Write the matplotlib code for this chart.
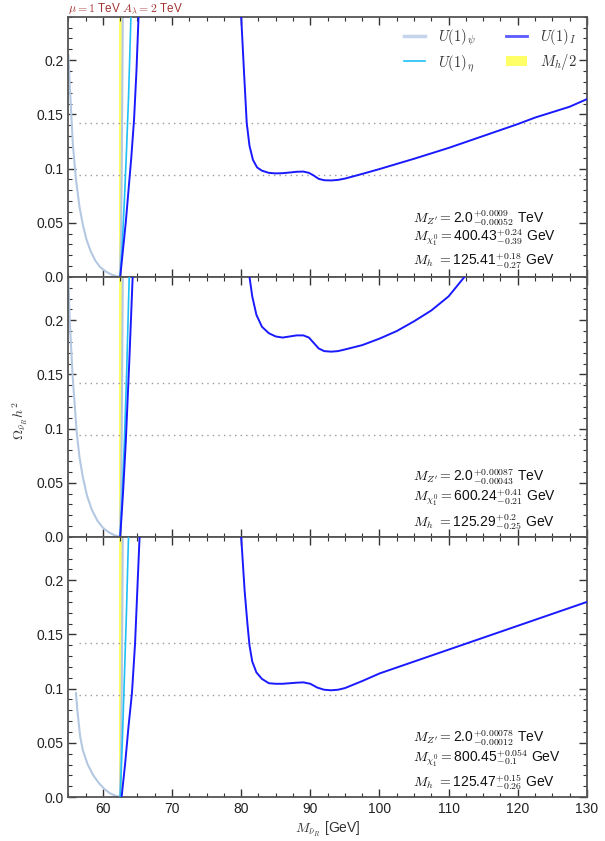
import matplotlib
matplotlib.use("Agg")
import matplotlib.pyplot as plt
from matplotlib.ticker import MultipleLocator, FixedLocator
from matplotlib.patches import Patch
from matplotlib.lines import Line2D

plt.rcParams['font.family'] = ['Liberation Sans', 'DejaVu Sans']
plt.rcParams['mathtext.fontset'] = 'cm'

# ---------------- data ----------------
# Panel 1 (M_chi = 400 GeV)
p1_psi_x = [55.0, 55.3, 55.65, 56.1, 56.6, 57.1, 57.6, 58.2, 58.9, 59.6, 60.4, 61.2, 62.0, 62.45,
            62.62, 62.72, 62.8, 62.87]
p1_psi_y = [0.205, 0.165, 0.122, 0.09, 0.065, 0.048, 0.035, 0.024, 0.015, 0.009, 0.005, 0.0022, 0.0006, 0.0,
            0.04, 0.1, 0.17, 0.24]
p1_eta_x = [62.5, 62.8, 63.1, 63.4, 63.7, 64.05]
p1_eta_y = [0.0, 0.03, 0.07, 0.115, 0.165, 0.24]
p1_I_low_x = [62.5, 62.9, 63.3, 63.7, 64.1, 64.5, 64.85, 65.15]
p1_I_low_y = [0.0, 0.025, 0.05, 0.08, 0.11, 0.145, 0.19, 0.24]
p1_I_x = [80.0, 80.4, 80.8, 81.2, 81.7, 82.3, 83.0, 84.0, 85.0, 86.0, 87.0, 88.0, 89.0, 89.8, 90.5,
          91.2, 92.0, 93.0, 94.0, 95.0, 97.5, 100.0, 105.0, 110.0, 115.0, 120.0, 122.5, 125.0, 127.5, 130.0]
p1_I_y = [0.24, 0.19, 0.142, 0.121, 0.108, 0.101, 0.098, 0.096, 0.0955, 0.0957, 0.0963, 0.097, 0.0972, 0.096, 0.0935,
          0.0905, 0.0892, 0.089, 0.0895, 0.0907, 0.095, 0.0995, 0.109, 0.119, 0.130, 0.141, 0.147, 0.152, 0.157, 0.164]

# Panel 2 (M_chi = 600 GeV)
p2_psi_x = [55.0, 55.2, 55.6, 56.2, 56.6, 57.1, 57.7, 58.4, 59.2, 60.0, 60.8, 61.6, 62.45,
            62.62, 62.72, 62.8, 62.87]
p2_psi_y = [0.237, 0.2, 0.15, 0.097, 0.074, 0.055, 0.038, 0.025, 0.015, 0.0085, 0.0045, 0.0018, 0.0,
            0.04, 0.1, 0.17, 0.24]
p2_eta_x = [62.5, 62.8, 63.1, 63.45, 63.8]
p2_eta_y = [0.0, 0.04, 0.087, 0.155, 0.24]
p2_I_low_x = [62.5, 62.9, 63.3, 63.8, 64.3]
p2_I_low_y = [0.0, 0.04, 0.087, 0.16, 0.24]
p2_I_x = [81.2, 81.6, 82.2, 83.0, 84.0, 85.0, 86.0, 87.0, 88.0, 89.0, 89.8, 90.5, 91.2, 92.0, 93.0,
          94.0, 95.0, 97.5, 100.0, 102.5, 105.0, 107.5, 110.0, 112.3]
p2_I_y = [0.24, 0.222, 0.205, 0.194, 0.188, 0.185, 0.184, 0.185, 0.186, 0.186, 0.184, 0.179, 0.174, 0.1715, 0.171,
          0.1715, 0.173, 0.177, 0.183, 0.19, 0.199, 0.209, 0.222, 0.24]

# Panel 3 (M_chi = 800 GeV)
p3_psi_x = [56.1, 56.3, 56.7, 57.1, 57.8, 58.6, 59.4, 60.2, 61.0, 61.8, 62.45,
            62.62, 62.72, 62.8, 62.87]
p3_psi_y = [0.096, 0.08, 0.056, 0.043, 0.03, 0.02, 0.013, 0.0075, 0.0035, 0.0012, 0.0,
            0.04, 0.1, 0.17, 0.24]
p3_eta_x = [62.5, 62.8, 63.1, 63.4, 63.7]
p3_eta_y = [0.0, 0.05, 0.11, 0.17, 0.24]
p3_I_low_x = [62.7, 63.2, 63.7, 64.2, 64.65, 65.3]
p3_I_low_y = [0.0, 0.03, 0.065, 0.096, 0.142, 0.24]
p3_I_x = [80.0, 80.5, 80.9, 81.2, 81.6, 82.2, 83.0, 84.0, 85.0, 86.0, 87.0, 88.0, 89.0, 90.0, 91.0,
          92.0, 93.0, 94.0, 95.0, 97.5, 100.0, 105.0, 110.0, 115.0, 120.0, 125.0, 130.0]
p3_I_y = [0.24, 0.19, 0.16, 0.14, 0.125, 0.115, 0.109, 0.105, 0.1045, 0.1045, 0.105, 0.1055, 0.1058, 0.1045, 0.101,
          0.099, 0.0985, 0.099, 0.1005, 0.107, 0.114, 0.125, 0.136, 0.147, 0.158, 0.169, 0.180]

planck_lines = [0.094, 0.142]
mh_half_band = (62.3, 62.8)

mzp_labels = [r"$^{+0.0009}_{-0.00052}$", r"$^{+0.00087}_{-0.00043}$", r"$^{+0.00078}_{-0.00012}$"]
mchi_vals = ["400.43", "600.24", "800.45"]
mchi_err = [r"$^{+0.24}_{-0.39}$", r"$^{+0.41}_{-0.21}$", r"$^{+0.054}_{-0.1}$"]
mh_vals = ["125.41", "125.29", "125.47"]
mh_err = [r"$^{+0.18}_{-0.27}$", r"$^{+0.2}_{-0.25}$", r"$^{+0.15}_{-0.26}$"]

xticks = [60, 70, 80, 90, 100, 110, 120, 130]
yticks = [0.0, 0.05, 0.1, 0.15, 0.2]
ytick_labels = ["0.0", "0.05", "0.1", "0.15", "0.2"]

panels = [
    (p1_psi_x, p1_psi_y, p1_eta_x, p1_eta_y, p1_I_low_x, p1_I_low_y, p1_I_x, p1_I_y),
    (p2_psi_x, p2_psi_y, p2_eta_x, p2_eta_y, p2_I_low_x, p2_I_low_y, p2_I_x, p2_I_y),
    (p3_psi_x, p3_psi_y, p3_eta_x, p3_eta_y, p3_I_low_x, p3_I_low_y, p3_I_x, p3_I_y),
]

c_psi = '#b4c8e2'
c_eta = '#1ec0f5'
c_I = '#1a1aff'
c_yel = '#ffff66'

fig, axes = plt.subplots(3, 1, figsize=(6.05, 8.41), dpi=100, sharex=True)
fig.subplots_adjust(left=0.113, right=0.970, top=0.980, bottom=0.0523, hspace=0)

for i, ax in enumerate(axes):
    psx, psy, etx, ety, ilx, ily, ix, iy = panels[i]
    ax.axvspan(mh_half_band[0], mh_half_band[1], color=c_yel, lw=0, zorder=1)
    for yv in planck_lines:
        ax.hlines(yv, 56.5, 130, colors='#999999', linestyles=(0, (1, 3)), lw=1.0, zorder=1)
    ax.plot(psx, psy, color=c_psi, lw=1.5, zorder=2)
    ax.plot(etx, ety, color=c_eta, lw=1.2, zorder=3)
    ax.plot(ilx, ily, color=c_I, lw=1.4, zorder=4)
    ax.plot(ix, iy, color=c_I, lw=1.4, zorder=4)

    ax.set_xlim(55, 130)
    ax.set_ylim(0, 0.24)
    ax.xaxis.set_major_locator(FixedLocator(xticks))
    ax.xaxis.set_minor_locator(MultipleLocator(2.5))
    ax.yaxis.set_major_locator(FixedLocator(yticks))
    ax.set_yticklabels(ytick_labels)
    ax.yaxis.set_minor_locator(MultipleLocator(0.01))
    ax.tick_params(which='both', direction='in', top=True, right=True, colors='#333333',
                   labelcolor='#222222', labelsize=10)
    ax.tick_params(which='major', length=6, width=1.0)
    ax.tick_params(which='minor', length=3, width=0.8)
    for s in ax.spines.values():
        s.set_color('#555555')
        s.set_linewidth(1.3)

    tx = 0.665
    ax.text(tx, 0.227, r"$M_{Z'}=$" + "2.0" + mzp_labels[i] + " TeV", transform=ax.transAxes,
            fontsize=10, va='center', ha='left', color='#111111')
    ax.text(tx, 0.150, r"$M_{\chi^0_1}=$" + mchi_vals[i] + mchi_err[i] + " GeV", transform=ax.transAxes,
            fontsize=10, va='center', ha='left', color='#111111')
    ax.text(tx, 0.058, r"$M_h\ =$" + mh_vals[i] + mh_err[i] + " GeV", transform=ax.transAxes,
            fontsize=10, va='center', ha='left', color='#111111')

axes[0].text(0.0, 1.003, r"$\mu=1$ TeV $A_\lambda=2$ TeV", transform=axes[0].transAxes,
             fontsize=8.5, color='#a33333', va='bottom', ha='left')

handles = [Line2D([], [], color='#c4d4ea', lw=2.5),
           Line2D([], [], color=c_eta, lw=1.2),
           Line2D([], [], color='#5a5aff', lw=2),
           Patch(facecolor=c_yel, edgecolor='none')]
labels = [r"$U(1)_\psi$", r"$U(1)_\eta$", r"$U(1)_I$", r"$M_h/2$"]
axes[0].legend(handles, labels, ncol=2, loc='upper right', frameon=False, fontsize=10.5,
               handlelength=1.4, columnspacing=2.1, handletextpad=0.9, borderaxespad=0.3,
               labelspacing=0.35, labelcolor='#333333')

axes[2].set_xlabel(r"$M_{\tilde{\nu}_R}$ [GeV]", fontsize=10, color='#333333', labelpad=3)
fig.text(0.033, 0.5, r"$\Omega_{\tilde{\nu}_R}h^2$", rotation=90, fontsize=10, color='#333333',
         va='center', ha='center')

fig.savefig("out.png", dpi=100)
